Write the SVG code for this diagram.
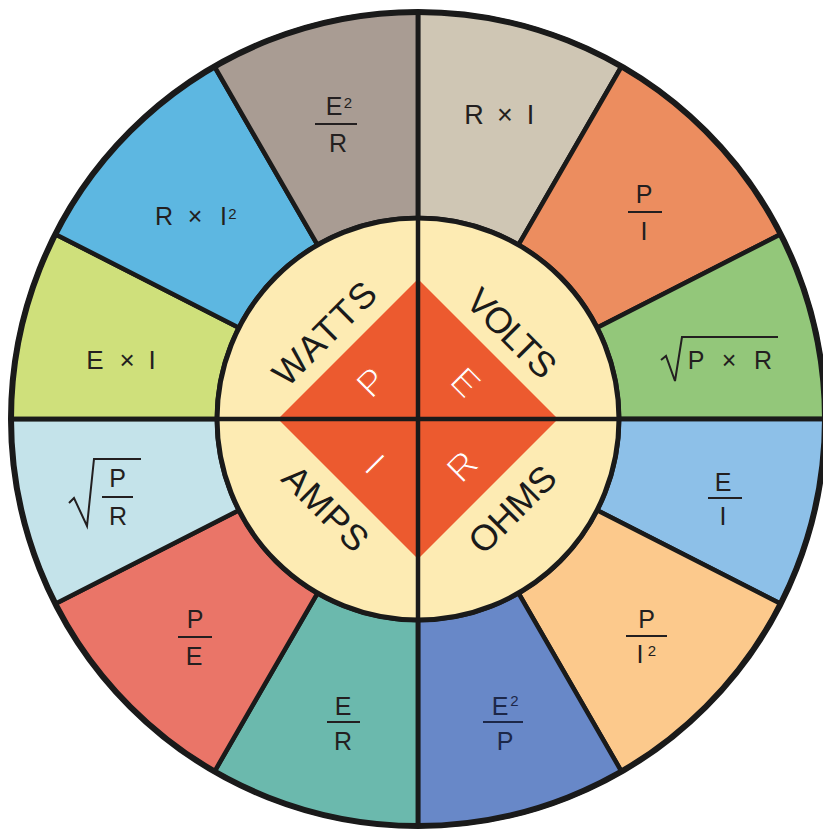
<svg xmlns="http://www.w3.org/2000/svg" width="823" height="830" viewBox="0 0 823 830">
<style>
.sec{stroke:#1a1a1a;stroke-width:4.5;stroke-linejoin:round}
.f{font-family:"Liberation Sans",Arial,sans-serif;font-size:25px;fill:#231f20;text-anchor:middle}
.f27{font-size:27px}
.f26{font-size:26px}
.sup{font-size:15px}
.bar{stroke:#231f20;stroke-width:2}
.rad{fill:none;stroke:#231f20;stroke-width:2;stroke-linejoin:miter}
.ring{font-family:"Liberation Sans",Arial,sans-serif;font-size:36px;fill:#1a1a1a;text-anchor:middle}
.dl{font-family:"Liberation Sans",Arial,sans-serif;font-size:37px;fill:#ffffff;stroke:#ec5a2f;stroke-width:1.1;text-anchor:middle}
.div{stroke:#1a1a1a;stroke-width:4.5}
</style>
<rect width="823" height="830" fill="#ffffff"/>
<g id="sectors">
<g id="s-RxI"><path class="sec" fill="#cfc6b4" d="M418 12 A407 407 0 0 1 621.5 66.5 L518.5 244.9 A201 201 0 0 0 418 218 Z"/>
<text class="f f27" x="474" y="124">R</text><text class="f f27" x="505" y="124">×</text><text class="f f27" x="530.5" y="124">I</text></g>
<g id="s-PoverI"><path class="sec" fill="#ec8d5f" d="M621.5 66.5 A407 407 0 0 1 780.6 234.2 L597.1 327.7 A201 201 0 0 0 518.5 244.9 Z"/>
<text class="f" x="644" y="203">P</text><line class="bar" x1="628" y1="212" x2="662" y2="212"/><text class="f" x="644" y="240">I</text></g>
<g id="s-sqrtPxR"><path class="sec" fill="#93c77a" d="M780.6 234.2 A407 407 0 0 1 825 419 L619 419 A201 201 0 0 0 597.1 327.7 Z"/>
<path class="rad" d="M661 360 L666 356 L675 381 L682 337 L778 337"/>
<text class="f" x="696" y="369">P</text><text class="f" x="729" y="369">×</text><text class="f" x="763" y="369">R</text></g>
<g id="s-EoverI"><path class="sec" fill="#8dc0e8" d="M825 419 A407 407 0 0 1 780.6 603.8 L597.1 510.3 A201 201 0 0 0 619 419 Z"/>
<text class="f" x="723" y="491">E</text><line class="bar" x1="708" y1="498" x2="742" y2="498"/><text class="f" x="723" y="525">I</text></g>
<g id="s-PoverI2"><path class="sec" fill="#fcc98c" d="M780.6 603.8 A407 407 0 0 1 621.5 771.5 L518.5 593.1 A201 201 0 0 0 597.1 510.3 Z"/>
<text class="f" x="646.5" y="628">P</text><line class="bar" x1="626" y1="636" x2="667" y2="636"/><text class="f" x="640" y="663">I</text><text class="f sup" x="652" y="656">2</text></g>
<g id="s-E2overP"><path class="sec" fill="#6888c8" d="M621.5 771.5 A407 407 0 0 1 418 826 L418 620 A201 201 0 0 0 518.5 593.1 Z"/>
<text class="f" style="fill:#1c2748" x="500" y="715">E</text><text class="f sup" style="fill:#1c2748" x="514.5" y="706">2</text><line class="bar" style="stroke:#1c2748" x1="483" y1="722" x2="523" y2="722"/><text class="f" style="fill:#1c2748" x="505" y="750">P</text></g>
<g id="s-EoverR"><path class="sec" fill="#6bb9ad" d="M418 826 A407 407 0 0 1 214.5 771.5 L317.5 593.1 A201 201 0 0 0 418 620 Z"/>
<text class="f" x="343" y="715">E</text><line class="bar" x1="327" y1="722" x2="360" y2="722"/><text class="f" x="343" y="750">R</text></g>
<g id="s-PoverE"><path class="sec" fill="#ea7568" d="M214.5 771.5 A407 407 0 0 1 55.4 603.8 L238.9 510.3 A201 201 0 0 0 317.5 593.1 Z"/>
<text class="f" x="195" y="628">P</text><line class="bar" x1="178" y1="637" x2="212" y2="637"/><text class="f" x="194" y="665">E</text></g>
<g id="s-sqrtPoverR"><path class="sec" fill="#c4e3ea" d="M55.4 603.8 A407 407 0 0 1 11 419 L217 419 A201 201 0 0 0 238.9 510.3 Z"/>
<path class="rad" d="M69 503 L74 498 L87 526 L94 459 L141 459"/>
<text class="f" x="117.5" y="487">P</text><line class="bar" x1="102" y1="497" x2="133" y2="497"/><text class="f" x="118" y="525">R</text></g>
<g id="s-ExI"><path class="sec" fill="#cfe07b" d="M11 419 A407 407 0 0 1 55.4 234.2 L238.9 327.7 A201 201 0 0 0 217 419 Z"/>
<text class="f f26" x="95" y="369">E</text><text class="f f26" x="127" y="369">×</text><text class="f f26" x="152" y="369">I</text></g>
<g id="s-RxI2"><path class="sec" fill="#5db7e1" d="M55.4 234.2 A407 407 0 0 1 214.5 66.5 L317.5 244.9 A201 201 0 0 0 238.9 327.7 Z"/>
<text class="f" x="164" y="225">R</text><text class="f" x="195" y="225">×</text><text class="f" x="223.5" y="225">I</text><text class="f sup" x="232.5" y="219">2</text></g>
<g id="s-E2overR"><path class="sec" fill="#a99c93" d="M214.5 66.5 A407 407 0 0 1 418 12 L418 218 A201 201 0 0 0 317.5 244.9 Z"/>
<text class="f" x="334" y="115">E</text><text class="f sup" x="348" y="108">2</text><line class="bar" x1="315" y1="124" x2="357" y2="124"/><text class="f" x="338" y="152">R</text></g>
</g>
<circle cx="418" cy="419" r="407" fill="none" stroke="#1a1a1a" stroke-width="6"/>
<g id="inner-ring">
<circle cx="418" cy="419" r="201" fill="#fdebb3" stroke="#1a1a1a" stroke-width="5"/>
<text class="ring" transform="translate(324 333) rotate(-45)" x="0" y="13" textLength="130" lengthAdjust="spacing">WATTS</text>
<text class="ring" transform="translate(512 333) rotate(45)" x="0" y="13" textLength="110" lengthAdjust="spacing">VOLTS</text>
<text class="ring" transform="translate(326 508) rotate(45)" x="0" y="13" textLength="105" lengthAdjust="spacing">AMPS</text>
<text class="ring" transform="translate(512 509) rotate(-45)" x="0" y="13" textLength="107" lengthAdjust="spacing">OHMS</text>
</g>
<g id="diamond">
<polygon points="418,279 558,419 418,559 278,419" fill="#ec5a2f"/>
<text class="dl" transform="translate(371 382) rotate(-45)" x="0" y="13">P</text>
<text class="dl" transform="translate(466 382) rotate(45)" x="0" y="13">E</text>
<text class="dl" transform="translate(375 464) rotate(45)" x="0" y="13">I</text>
<text class="dl" transform="translate(462 466) rotate(-45)" x="0" y="13">R</text>
</g>
<g id="connectors">
<line class="div" x1="418" y1="12" x2="418" y2="826"/>
<line class="div" x1="11" y1="419" x2="825" y2="419"/>
</g>
</svg>
